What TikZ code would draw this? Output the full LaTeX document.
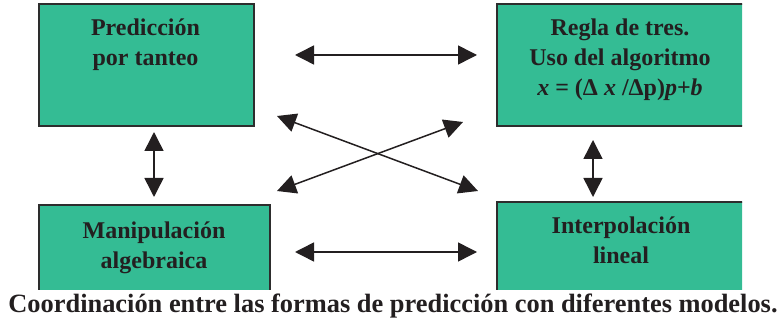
\documentclass[tikz,border=0pt]{standalone}
\usepackage{fontspec}
\setmainfont{Liberation Serif}
\usetikzlibrary{arrows.meta}
\definecolor{boxgreen}{RGB}{52,188,148}
\definecolor{ink}{RGB}{35,31,32}
\definecolor{edge}{RGB}{45,45,45}
\tikzset{
  box/.style={rectangle, fill=boxgreen, draw=edge, line width=1.6pt, inner sep=0pt, anchor=north west},
  boxtext/.style={anchor=north, inner sep=0pt, align=center, text=ink, font=\fontsize{24}{30}\selectfont\bfseries},
  link/.style={draw=ink, line width=1.5pt, {Triangle[length=19pt,width=19pt]}-{Triangle[length=19pt,width=19pt]}},
  caption/.style={anchor=base, inner sep=0pt, text=ink, font=\fontsize{26.4}{30}\selectfont\bfseries}
}
\begin{document}
\begin{tikzpicture}[x=1pt,y=-1pt]
\useasboundingbox (0,0) rectangle (778,320);
\begin{scope}
  \clip (0,0) rectangle (742,289);
  \node[box, minimum width=215pt, minimum height=122pt] (tl) at (38,3) {};
  \node[box, minimum width=260pt, minimum height=122pt] (tr) at (496,3) {};
  \node[box, minimum width=231pt, minimum height=100pt] (bl) at (38,204) {};
  \node[box, minimum width=260pt, minimum height=100pt] (br) at (496,201) {};
\end{scope}
\node[boxtext] (tltext) at (145.5,14) {\strut Predicción\\\strut por tanteo};
\node[boxtext] (trtext) at (620,14) {\strut Regla de tres.\\\strut Uso del algoritmo\\\strut\textit{x} = (Δ \textit{x} /Δp)\textit{p}+\textit{b}};
\node[boxtext] (bltext) at (154,217) {\strut Manipulación\\\strut algebraica};
\node[boxtext] (brtext) at (621,212) {\strut Interpolación\\\strut lineal};
% arrow end points
\coordinate (h1a) at (295,55);
\coordinate (h1b) at (477,55);
\coordinate (h2a) at (295,252);
\coordinate (h2b) at (477,252);
\coordinate (v1a) at (154,132);
\coordinate (v1b) at (154,197);
\coordinate (v2a) at (593,140);
\coordinate (v2b) at (593,197);
\coordinate (d1a) at (277,116);
\coordinate (d1b) at (478,191);
\coordinate (d2a) at (277,191);
\coordinate (d2b) at (463,122);
\draw[link] (h1a) -- (h1b);
\draw[link] (h2a) -- (h2b);
\draw[link] (v1a) -- (v1b);
\draw[link] (v2a) -- (v2b);
\draw[link] (d1a) -- (d1b);
\draw[link] (d2a) -- (d2b);
\node[caption] (cap) at (393,312) {Coordinación entre las formas de predicción con diferentes modelos.};
\end{tikzpicture}
\end{document}
